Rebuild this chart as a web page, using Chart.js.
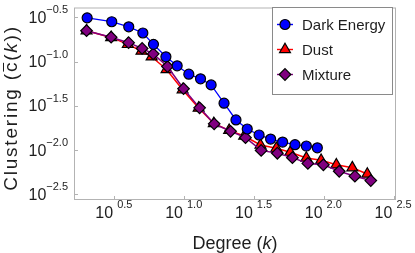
<!DOCTYPE html>
<html lang="en">
<head>
<meta charset="UTF-8">
<title>Clustering vs Degree</title>
<script src="https://cdn.jsdelivr.net/npm/chart.js"></script>
<style>
  html, body { margin: 0; padding: 0; background: #fff; }
</style>
</head>
<body>
<canvas id="chart" width="415" height="253"></canvas>
<script>
// values
const darkK = [2.02, 3.03, 4.01, 5.06, 6.03, 7.40, 8.91, 10.8, 13.1, 15.6, 19.3, 23.5, 28.3, 34.4, 41.6, 50.7, 62.2, 75.0, 89.9];
const darkC = [0.313, 0.283, 0.248, 0.211, 0.157, 0.1135, 0.0897, 0.0721, 0.0640, 0.0546, 0.0339, 0.0219, 0.0173, 0.0148, 0.0133, 0.0123, 0.0115, 0.0111, 0.0106];

const dustK = [2.0, 3.0, 3.95, 4.95, 5.85, 7.48, 9.75, 12.7, 16.3, 21.0, 26.9, 35.2, 45.7, 57.5, 75.0, 95.7, 123, 160, 205];
const dustC = [0.224, 0.188, 0.157, 0.132, 0.1135, 0.0817, 0.0482, 0.0299, 0.0200, 0.0167, 0.0144, 0.0114, 0.01045, 0.00944, 0.00811, 0.00766, 0.00681, 0.00631, 0.00535];

const mixK = [2.0, 3.0, 4.0, 5.0, 6.0, 7.6, 9.9, 12.9, 16.4, 21.5, 27.5, 35.6, 46.5, 59.6, 76.9, 99.3, 129, 167, 217];
const mixC = [0.224, 0.189, 0.164, 0.141, 0.1225, 0.0881, 0.0494, 0.0300, 0.0198, 0.0163, 0.0138, 0.00991, 0.0092, 0.0082, 0.00705, 0.00681, 0.00575, 0.00506, 0.00451];

const seriesNames = ['Dark Energy', 'Dust', 'Mixture'];
const xTickExps = ['0.5', '1.0', '1.5', '2.0', '2.5'];
const yTickExps = ['\u22120.5', '\u22121.0', '\u22121.5', '\u22122.0', '\u22122.5'];

const FONT = '"Liberation Sans", Arial, Helvetica, sans-serif';
const TEXT = '#1e1e1e';

const expVal = s => Math.pow(10, parseFloat(s.replace('\u2212', '-')));
const xTickVals = xTickExps.map(expVal);
const yTickVals = yTickExps.map(expVal);

const styles = [
  { shape: 'circle', fill: '#0000ff', line: '#0000ff', r: 5 },
  { shape: 'triangle', fill: '#ff0000', line: '#ff0000', r: 6.3 },
  { shape: 'rectRot', fill: '#800080', line: '#800080', r: 5.8 }
];

function toPoints(ks, cs) {
  return ks.map((k, i) => ({ x: k, y: cs[i] }));
}

function drawMarker(ctx, st, x, y) {
  const r = st.r;
  ctx.beginPath();
  if (st.shape === 'circle') {
    ctx.arc(x, y, r, 0, Math.PI * 2);
  } else if (st.shape === 'triangle') {
    for (let i = 0; i < 3; i++) {
      const a = i * 2 * Math.PI / 3;
      const px = x + Math.sin(a) * r, py = y - Math.cos(a) * r;
      if (i === 0) ctx.moveTo(px, py); else ctx.lineTo(px, py);
    }
  } else {
    ctx.moveTo(x - r, y); ctx.lineTo(x, y - r); ctx.lineTo(x + r, y); ctx.lineTo(x, y + r);
  }
  ctx.closePath();
  ctx.fillStyle = st.fill;
  ctx.fill();
  ctx.lineWidth = 1.2;
  ctx.strokeStyle = '#000';
  ctx.stroke();
}

// draws a row of text pieces starting at x, returns end x
function drawPieces(ctx, pieces, x, y) {
  pieces.forEach(p => {
    ctx.font = p.font;
    ctx.fillText(p.t, x, y);
    const w = ctx.measureText(p.t).width;
    if (p.over) {
      ctx.beginPath();
      ctx.moveTo(x + 0.5, y - 13);
      ctx.lineTo(x + w - 2, y - 13);
      ctx.lineWidth = 1;
      ctx.strokeStyle = TEXT;
      ctx.stroke();
    }
    x += w;
  });
  return x;
}
function piecesWidth(ctx, pieces) {
  return pieces.reduce((s, p) => { ctx.font = p.font; return s + ctx.measureText(p.t).width; }, 0);
}

const framePlugin = {
  id: 'frame',
  beforeDatasetsDraw(chart) {
    const { ctx, chartArea: a, scales } = chart;
    ctx.save();
    ctx.strokeStyle = '#b3b3b3';
    ctx.lineWidth = 1;
    ctx.strokeRect(a.left + 0.5, a.top + 0.5, a.right - a.left - 1, a.bottom - a.top - 1);
    ctx.beginPath();
    xTickVals.forEach(v => {
      const px = Math.round(scales.x.getPixelForValue(v)) + 0.5;
      ctx.moveTo(px, a.bottom);
      ctx.lineTo(px, a.bottom - 4);
    });
    yTickVals.forEach(v => {
      const py = Math.round(scales.y.getPixelForValue(v)) + 0.5;
      ctx.moveTo(a.left, py);
      ctx.lineTo(a.left + 4, py);
    });
    ctx.stroke();
    ctx.restore();
  },
  afterDraw(chart) {
    const { ctx, chartArea: a, scales } = chart;
    ctx.save();
    ctx.fillStyle = TEXT;
    ctx.textBaseline = 'alphabetic';
    ctx.textAlign = 'left';

    // y tick labels: 10^exp, right aligned
    yTickExps.forEach((e, i) => {
      const py = scales.y.getPixelForValue(yTickVals[i]);
      ctx.font = '11px ' + FONT;
      const sw = ctx.measureText(e).width;
      ctx.font = '16px ' + FONT;
      const bw = ctx.measureText('10').width;
      const right = a.left - 6;
      ctx.fillText('10', right - sw - bw, py + 5.5);
      ctx.font = '11px ' + FONT;
      ctx.fillText(e, right - sw, py - 4);
    });

    // x tick labels
    xTickExps.forEach((e, i) => {
      const px = scales.x.getPixelForValue(xTickVals[i]);
      ctx.font = '16px ' + FONT;
      const bw = ctx.measureText('10').width;
      const start = px - 19;
      ctx.fillText('10', start, a.bottom + 18);
      ctx.font = '11px ' + FONT;
      ctx.fillText(e, start + bw + 4, a.bottom + 8);
    });

    // x title
    const xt = [
      { t: 'Degree (', font: '18px ' + FONT },
      { t: 'k', font: 'italic 18px ' + FONT },
      { t: ')', font: '18px ' + FONT }
    ];
    const xw = piecesWidth(ctx, xt);
    drawPieces(ctx, xt, (a.left + a.right) / 2 - xw / 2, 248.5);

    // y title, rotated and a bit spaced out like the original
    const yt = [
      { t: 'Clustering (', font: '19px ' + FONT },
      { t: 'c', font: '19px ' + FONT, over: true },
      { t: '(', font: '19px ' + FONT },
      { t: 'k', font: 'italic 19px ' + FONT },
      { t: '))', font: '19px ' + FONT }
    ];
    ctx.save();
    ctx.letterSpacing = '1.8px';
    const yw = piecesWidth(ctx, yt);
    ctx.translate(16.5, 108);
    ctx.rotate(-Math.PI / 2);
    drawPieces(ctx, yt, -yw / 2, 0);
    ctx.restore();

    // legend box
    const lx = 272.5, ly = 7.5, lw = 120, lh = 87;
    ctx.fillStyle = '#fff';
    ctx.fillRect(lx, ly, lw, lh);
    ctx.strokeStyle = '#8a8a8a';
    ctx.lineWidth = 1;
    ctx.strokeRect(lx, ly, lw, lh);
    seriesNames.forEach((name, i) => {
      const cy = 24.5 + i * 25;
      const st = styles[i];
      ctx.beginPath();
      ctx.moveTo(277, cy);
      ctx.lineTo(293, cy);
      ctx.strokeStyle = st.line;
      ctx.lineWidth = 1.4;
      ctx.stroke();
      drawMarker(ctx, st, 285, cy);
      ctx.fillStyle = TEXT;
      ctx.font = '15px ' + FONT;
      ctx.fillText(name, 302, cy + 5.5);
    });
    ctx.restore();
  }
};

function makeDataset(i, ks, cs, order) {
  const st = styles[i];
  return {
    label: seriesNames[i],
    data: toPoints(ks, cs),
    showLine: true,
    borderColor: st.line,
    borderWidth: i === 0 ? 1.3 : 1.5,
    backgroundColor: st.fill,
    pointBackgroundColor: st.fill,
    pointBorderColor: '#000',
    pointBorderWidth: 1.2,
    pointStyle: st.shape,
    pointRadius: st.r,
    tension: 0,
    order: order
  };
}

new Chart(document.getElementById('chart').getContext('2d'), {
  type: 'scatter',
  data: {
    datasets: [
      makeDataset(0, darkK, darkC, 0),
      makeDataset(1, dustK, dustC, 2),
      makeDataset(2, mixK, mixC, 1)
    ]
  },
  options: {
    responsive: false,
    animation: false,
    events: [],
    layout: { padding: { top: 1, right: 19, left: 0, bottom: 0 } },
    plugins: {
      legend: { display: false },
      tooltip: { enabled: false }
    },
    scales: {
      x: {
        type: 'logarithmic',
        min: 1.626,
        max: 328.9,
        grid: { display: false },
        border: { display: false },
        ticks: { display: false },
        afterBuildTicks: s => { s.ticks = xTickVals.map(v => ({ value: v })); },
        afterFit: s => { s.height = 53; }
      },
      y: {
        type: 'logarithmic',
        min: 0.00272,
        max: 0.410,
        grid: { display: false },
        border: { display: false },
        ticks: { display: false },
        afterBuildTicks: s => { s.ticks = yTickVals.map(v => ({ value: v })); },
        afterFit: s => { s.width = 74; }
      }
    }
  },
  plugins: [framePlugin]
});
</script>
</body>
</html>
